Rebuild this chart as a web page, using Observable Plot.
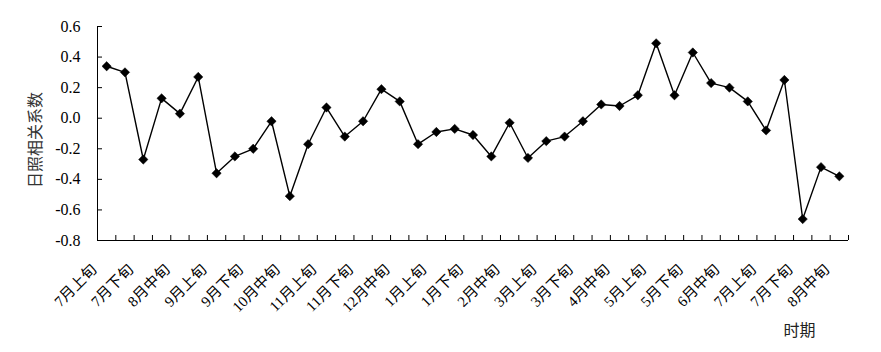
<!DOCTYPE html>
<html>
<head>
<meta charset="utf-8">
<script src="https://cdn.jsdelivr.net/npm/d3@7"></script>
<script src="https://cdn.jsdelivr.net/npm/@observablehq/plot@0.6"></script>
<style>
  html, body { margin: 0; padding: 0; background: #fff; }
  #chart { width: 881px; height: 352px; }
</style>
</head>
<body>
<div id="chart"></div>
<script>
const categories = [
  "7月上旬","7月中旬","7月下旬","8月上旬","8月中旬","8月下旬",
  "9月上旬","9月中旬","9月下旬","10月上旬","10月中旬","10月下旬",
  "11月上旬","11月中旬","11月下旬","12月上旬","12月中旬","12月下旬",
  "1月上旬","1月中旬","1月下旬","2月上旬","2月中旬","2月下旬",
  "3月上旬","3月中旬","3月下旬","4月上旬","4月中旬","4月下旬",
  "5月上旬","5月中旬","5月下旬","6月上旬","6月中旬","6月下旬",
  "7月上旬","7月中旬","7月下旬","8月上旬","8月中旬"
];
const values = [
  0.34, 0.30, -0.27, 0.13, 0.03, 0.27, -0.36, -0.25, -0.20, -0.02, -0.51,
  -0.17, 0.07, -0.12, -0.02, 0.19, 0.11, -0.17, -0.09, -0.07, -0.11,
  -0.25, -0.03, -0.26, -0.15, -0.12, -0.02, 0.09, 0.08, 0.15, 0.49,
  0.15, 0.43, 0.23, 0.20, 0.11, -0.08, 0.25, -0.66, -0.32, -0.38
];
const yTicks = [-0.8, -0.6, -0.4, -0.2, 0.0, 0.2, 0.4, 0.6];
const yTitle = "日照相关系数";
const xTitle = "时期";

const data = categories.map((c, i) => ({i, c, v: values[i]}));
const n = categories.length;
const boundaries = d3.range(0, n + 1).map(k => k - 0.5);
const labelIdx = d3.range(0, n, 2);
const serif = "'Liberation Serif', 'Noto Sans CJK SC', serif";
const cjk = "'Noto Sans CJK SC', sans-serif";

const chart = Plot.plot({
  width: 881,
  height: 352,
  marginLeft: 97,
  marginRight: 33,
  marginTop: 26,
  marginBottom: 112,
  style: {background: "#fff", overflow: "visible", fontSize: "16px"},
  x: {type: "linear", domain: [-0.5, n - 0.5], axis: null},
  y: {domain: [-0.8, 0.6], axis: null},
  marks: [
    Plot.ruleY([-0.8], {stroke: "#000", strokeWidth: 1}),
    Plot.ruleX([-0.5], {stroke: "#000", strokeWidth: 1}),
    Plot.axisY({ticks: yTicks, tickSize: -5, tickFormat: () => "", label: null, stroke: "#000"}),
    Plot.axisY({ticks: yTicks, tickSize: 0, tickPadding: 17, tickFormat: d => d.toFixed(1), label: null,
      fill: "#000", fontSize: 16, fontFamily: serif}),
    Plot.axisX({ticks: boundaries, tickSize: -5, tickFormat: () => "", label: null, stroke: "#000"}),
    Plot.axisX({ticks: labelIdx, tickSize: 0, tickPadding: 30, tickRotate: -45, textAnchor: "end", lineAnchor: "bottom",
      dx: -9, tickFormat: i => categories[i], label: null, fill: "#000", fontSize: 15, fontFamily: serif}),
    Plot.line(data, {x: "i", y: "v", stroke: "#000", strokeWidth: 1.4}),
    Plot.dot(data, {x: "i", y: "v", symbol: "diamond2", r: 4.2, fill: "#000", stroke: "#000", strokeWidth: 0.5}),
    Plot.text([yTitle], {frameAnchor: "left", rotate: -90, dx: -62, dy: 6.5, text: d => d, fontSize: 16, fill: "#333",
      textAnchor: "middle", lineAnchor: "middle", fontFamily: cjk}),
    Plot.text([xTitle], {frameAnchor: "bottom-right", dx: -49, dy: 90, text: d => d, fontSize: 16, fill: "#222",
      fontFamily: cjk, textAnchor: "middle", lineAnchor: "middle"})
  ]
});
// make sure tick labels use the serif face (titles keep their CJK face)
chart.setAttribute("font-family", serif);
chart.style.fontFamily = serif;
d3.select(chart).selectAll("text").each(function() {
  const t = this.textContent;
  if (t === yTitle || t === xTitle) {
    this.style.fontFamily = cjk;
  } else {
    this.style.fontFamily = serif;
  }
});
document.getElementById("chart").appendChild(chart);
</script>
</body>
</html>
